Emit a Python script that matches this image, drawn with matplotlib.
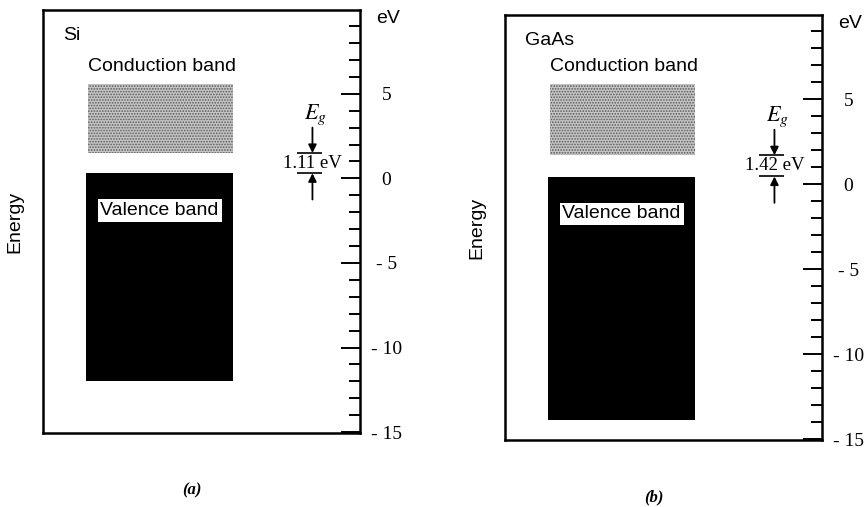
import matplotlib
matplotlib.use('Agg')
import matplotlib.pyplot as plt
from matplotlib.ticker import MultipleLocator
import matplotlib.transforms as mtransforms

# band edges (eV)
materials = ['Si', 'GaAs']
panel_tags = ['(a)', '(b)']
gap_labels = ['1.11 eV', '1.42 eV']
conduction_top = [5.6, 5.9]
conduction_bottom = [1.5, 1.7]
valence_top = [0.3, 0.45]
valence_bottom = [-12.0, -13.9]
major_ticks = [5, 0, -5, -10, -15]
tick_labels = ['5', '0', '- 5', '- 10', '- 15']

plt.rcParams['hatch.linewidth'] = 0.8
SANS = 'Liberation Sans'
SERIF = 'Liberation Serif'


def draw_panel(ax, i):
    ax.set_xlim(0, 1)
    ax.set_ylim(-15.05, 9.95)

    # conduction band (stippled) and valence band (solid black)
    ax.bar(0.3715, conduction_top[i] - conduction_bottom[i], width=0.457,
           bottom=conduction_bottom[i], color='#c4c4c4', edgecolor='#5a5a5a',
           linewidth=0, hatch='......')
    ax.bar(0.3675, valence_top[i] - valence_bottom[i], width=0.465,
           bottom=valence_bottom[i], color='black', linewidth=0)

    ax.text(0.143, conduction_top[i] + 1.0, 'Conduction band', family=SANS,
            fontsize=14, ha='left', va='center')
    ax.text(0.368, valence_top[i] - 2.2, 'Valence band', family=SANS,
            fontsize=14, ha='center', va='center',
            bbox=dict(facecolor='white', edgecolor='none', pad=2))
    ax.text(0.063, 0.94, materials[i], transform=ax.transAxes, family=SANS,
            fontsize=14, ha='left', va='center')

    # energy gap marker
    trans = mtransforms.blended_transform_factory(ax.transAxes, ax.transData)
    cb, vt = conduction_bottom[i], valence_top[i]
    ax.hlines([cb, vt], 0.80, 0.88, color='black', lw=1.2, transform=trans)
    ax.annotate('', xy=(0.85, cb), xytext=(0.85, cb + 1.5), xycoords=trans,
                textcoords=trans,
                arrowprops=dict(arrowstyle='-|>', color='black', lw=1.3,
                                mutation_scale=12, shrinkA=0, shrinkB=0))
    ax.annotate('', xy=(0.85, vt), xytext=(0.85, vt - 1.55), xycoords=trans,
                textcoords=trans,
                arrowprops=dict(arrowstyle='-|>', color='black', lw=1.3,
                                mutation_scale=12, shrinkA=0, shrinkB=0))
    ax.text(0.86, cb + 2.25, r'$E_g$', transform=trans, fontsize=16,
            math_fontfamily='stix', ha='center', va='center')
    ax.text(0.85, (cb + vt) / 2, gap_labels[i], transform=trans, family=SERIF,
            fontsize=13.5, ha='center', va='center')

    # energy scale on the right spine
    ax.set_xticks([])
    ax.set_yticks(major_ticks)
    ax.set_yticklabels(tick_labels, family=SERIF, fontsize=14, ha='center')
    ax.yaxis.set_minor_locator(MultipleLocator(1))
    ax.tick_params(axis='y', which='both', direction='in', left=False,
                   right=True, labelleft=False, labelright=True, width=1.4)
    ax.tick_params(axis='y', which='major', length=14, pad=19)
    ax.tick_params(axis='y', which='minor', length=8)
    ax.text(1.05, 9.45, 'eV', transform=trans, family=SANS, fontsize=14,
            ha='left', va='center')

    for sp in ax.spines.values():
        sp.set_linewidth(1.8)

    ax.text(-0.088, 0.5, 'Energy', transform=ax.transAxes, family=SANS,
            fontsize=14, rotation=90, ha='center', va='center')
    ax.text(0.47, -0.135, panel_tags[i], transform=ax.transAxes, family=SERIF,
            style='italic', weight='bold', fontsize=12, ha='center',
            va='center')


if __name__ == '__main__':
    W, H = 867, 507
    fig = plt.figure(figsize=(W / 100, H / 100), dpi=100)
    fig.patch.set_facecolor('white')

    # panel frames in pixels: left, top, right, bottom
    frames = [(43, 10, 360, 433), (505, 15, 822, 440)]
    for i, (l, t, r, b) in enumerate(frames):
        ax = fig.add_axes([l / W, 1 - b / H, (r - l) / W, (b - t) / H])
        draw_panel(ax, i)

    fig.savefig('out.png', dpi=100)
